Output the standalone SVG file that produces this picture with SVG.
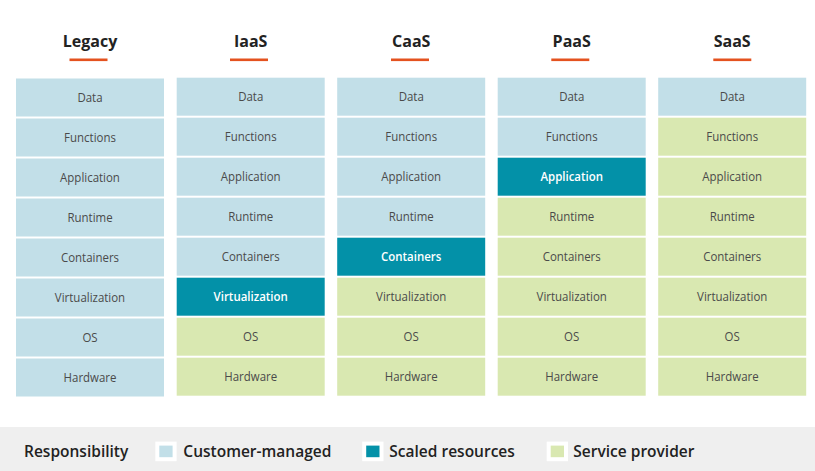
<svg xmlns="http://www.w3.org/2000/svg" width="815" height="471" viewBox="0 0 815 471">
<style>
text{font-family:"Open Sans","Liberation Sans",sans-serif;}
.h{font-size:16px;font-weight:700;fill:#222;text-anchor:middle;}
.c{font-size:12.6px;fill:#4a4a4a;text-anchor:middle;}
.w{font-size:12.6px;fill:#fff;font-weight:600;text-anchor:middle;}
.b{fill:#c2dfe8;}
.t{fill:#0391a8;}
.g{fill:#d9e8b1;}
.u{fill:#e4521f;}
.l{font-size:16px;font-weight:600;fill:#222;}
.sw{stroke:#fff;stroke-width:4;}
</style>
<rect width="815" height="471" fill="#fff"/>
<g id="legacy">
<text class="h" x="90" y="46.5">Legacy</text>
<rect class="u" x="69.5" y="58.5" width="38" height="2.6"/>
<rect class="b" x="16" y="78.5" width="148" height="38"/><text class="c" transform="matrix(0.91 0 0 1 90 102.1)">Data</text>
<rect class="b" x="16" y="118.5" width="148" height="38"/><text class="c" transform="matrix(0.91 0 0 1 90 142.1)">Functions</text>
<rect class="b" x="16" y="158.5" width="148" height="38"/><text class="c" transform="matrix(0.91 0 0 1 90 182.1)">Application</text>
<rect class="b" x="16" y="198.5" width="148" height="38"/><text class="c" transform="matrix(0.91 0 0 1 90 222.1)">Runtime</text>
<rect class="b" x="16" y="238.5" width="148" height="38"/><text class="c" transform="matrix(0.91 0 0 1 90 262.1)">Containers</text>
<rect class="b" x="16" y="278.5" width="148" height="38"/><text class="c" transform="matrix(0.91 0 0 1 90 302.1)">Virtualization</text>
<rect class="b" x="16" y="318.5" width="148" height="38"/><text class="c" transform="matrix(0.91 0 0 1 90 342.1)">OS</text>
<rect class="b" x="16" y="358.5" width="148" height="38"/><text class="c" transform="matrix(0.91 0 0 1 90 382.1)">Hardware</text>
</g>
<g id="iaas">
<text class="h" x="250.7" y="46.5">IaaS</text>
<rect class="u" x="230" y="58.5" width="38" height="2.6"/>
<rect class="b" x="176.7" y="77.7" width="148" height="38"/><text class="c" transform="matrix(0.91 0 0 1 250.7 101.3)">Data</text>
<rect class="b" x="176.7" y="117.7" width="148" height="38"/><text class="c" transform="matrix(0.91 0 0 1 250.7 141.3)">Functions</text>
<rect class="b" x="176.7" y="157.7" width="148" height="38"/><text class="c" transform="matrix(0.91 0 0 1 250.7 181.3)">Application</text>
<rect class="b" x="176.7" y="197.7" width="148" height="38"/><text class="c" transform="matrix(0.91 0 0 1 250.7 221.3)">Runtime</text>
<rect class="b" x="176.7" y="237.7" width="148" height="38"/><text class="c" transform="matrix(0.91 0 0 1 250.7 261.3)">Containers</text>
<rect class="t" x="176.7" y="277.7" width="148" height="38"/><text class="w" transform="matrix(0.91 0 0 1 250.7 301.3)">Virtualization</text>
<rect class="g" x="176.7" y="317.7" width="148" height="38"/><text class="c" transform="matrix(0.91 0 0 1 250.7 341.3)">OS</text>
<rect class="g" x="176.7" y="357.7" width="148" height="38"/><text class="c" transform="matrix(0.91 0 0 1 250.7 381.3)">Hardware</text>
</g>
<g id="caas">
<text class="h" x="411.2" y="46.5">CaaS</text>
<rect class="u" x="391" y="58.5" width="38" height="2.6"/>
<rect class="b" x="337.2" y="77.7" width="148" height="38"/><text class="c" transform="matrix(0.91 0 0 1 411.2 101.3)">Data</text>
<rect class="b" x="337.2" y="117.7" width="148" height="38"/><text class="c" transform="matrix(0.91 0 0 1 411.2 141.3)">Functions</text>
<rect class="b" x="337.2" y="157.7" width="148" height="38"/><text class="c" transform="matrix(0.91 0 0 1 411.2 181.3)">Application</text>
<rect class="b" x="337.2" y="197.7" width="148" height="38"/><text class="c" transform="matrix(0.91 0 0 1 411.2 221.3)">Runtime</text>
<rect class="t" x="337.2" y="237.7" width="148" height="38"/><text class="w" transform="matrix(0.91 0 0 1 411.2 261.3)">Containers</text>
<rect class="g" x="337.2" y="277.7" width="148" height="38"/><text class="c" transform="matrix(0.91 0 0 1 411.2 301.3)">Virtualization</text>
<rect class="g" x="337.2" y="317.7" width="148" height="38"/><text class="c" transform="matrix(0.91 0 0 1 411.2 341.3)">OS</text>
<rect class="g" x="337.2" y="357.7" width="148" height="38"/><text class="c" transform="matrix(0.91 0 0 1 411.2 381.3)">Hardware</text>
</g>
<g id="paas">
<text class="h" x="571.7" y="46.5">PaaS</text>
<rect class="u" x="551.3" y="58.5" width="38" height="2.6"/>
<rect class="b" x="497.7" y="77.7" width="148" height="38"/><text class="c" transform="matrix(0.91 0 0 1 571.7 101.3)">Data</text>
<rect class="b" x="497.7" y="117.7" width="148" height="38"/><text class="c" transform="matrix(0.91 0 0 1 571.7 141.3)">Functions</text>
<rect class="t" x="497.7" y="157.7" width="148" height="38"/><text class="w" transform="matrix(0.91 0 0 1 571.7 181.3)">Application</text>
<rect class="g" x="497.7" y="197.7" width="148" height="38"/><text class="c" transform="matrix(0.91 0 0 1 571.7 221.3)">Runtime</text>
<rect class="g" x="497.7" y="237.7" width="148" height="38"/><text class="c" transform="matrix(0.91 0 0 1 571.7 261.3)">Containers</text>
<rect class="g" x="497.7" y="277.7" width="148" height="38"/><text class="c" transform="matrix(0.91 0 0 1 571.7 301.3)">Virtualization</text>
<rect class="g" x="497.7" y="317.7" width="148" height="38"/><text class="c" transform="matrix(0.91 0 0 1 571.7 341.3)">OS</text>
<rect class="g" x="497.7" y="357.7" width="148" height="38"/><text class="c" transform="matrix(0.91 0 0 1 571.7 381.3)">Hardware</text>
</g>
<g id="saas">
<text class="h" x="732.2" y="46.5">SaaS</text>
<rect class="u" x="713.3" y="58.5" width="38" height="2.6"/>
<rect class="b" x="658.2" y="77.7" width="148" height="38"/><text class="c" transform="matrix(0.91 0 0 1 732.2 101.3)">Data</text>
<rect class="g" x="658.2" y="117.7" width="148" height="38"/><text class="c" transform="matrix(0.91 0 0 1 732.2 141.3)">Functions</text>
<rect class="g" x="658.2" y="157.7" width="148" height="38"/><text class="c" transform="matrix(0.91 0 0 1 732.2 181.3)">Application</text>
<rect class="g" x="658.2" y="197.7" width="148" height="38"/><text class="c" transform="matrix(0.91 0 0 1 732.2 221.3)">Runtime</text>
<rect class="g" x="658.2" y="237.7" width="148" height="38"/><text class="c" transform="matrix(0.91 0 0 1 732.2 261.3)">Containers</text>
<rect class="g" x="658.2" y="277.7" width="148" height="38"/><text class="c" transform="matrix(0.91 0 0 1 732.2 301.3)">Virtualization</text>
<rect class="g" x="658.2" y="317.7" width="148" height="38"/><text class="c" transform="matrix(0.91 0 0 1 732.2 341.3)">OS</text>
<rect class="g" x="658.2" y="357.7" width="148" height="38"/><text class="c" transform="matrix(0.91 0 0 1 732.2 381.3)">Hardware</text>
</g>
<g id="connectors"></g>
<g id="legend">
<rect x="0" y="427" width="815" height="44" fill="#efefef"/>
<text class="l" transform="matrix(0.97 0 0 1 24 457.3)">Responsibility</text>
<rect class="b sw" x="157.3" y="443.6" width="17.3" height="15.6"/>
<text class="l" transform="matrix(0.97 0 0 1 183.3 457.3)">Customer-managed</text>
<rect class="t sw" x="364.2" y="443.6" width="17.3" height="15.6"/>
<text class="l" transform="matrix(0.97 0 0 1 389.3 457.3)">Scaled resources</text>
<rect class="g sw" x="548.7" y="443.6" width="17.3" height="15.6"/>
<text class="l" transform="matrix(0.97 0 0 1 573.3 457.3)">Service provider</text>
</g>
</svg>
